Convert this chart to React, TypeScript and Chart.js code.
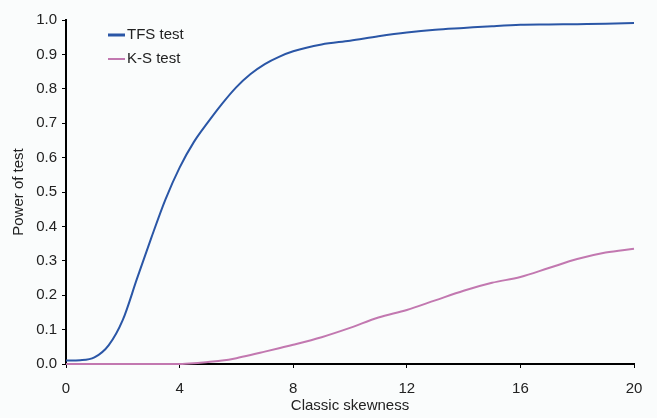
import React, { useEffect, useRef } from "react";
import { Chart, registerables } from "chart.js";

Chart.register(...registerables);

const skewness = [0, 0.5, 1, 1.5, 2, 2.5, 3, 3.5, 4, 4.5, 5, 5.5, 6, 6.5, 7, 7.5, 8, 9, 10, 11, 12, 13, 14, 15, 16, 17, 18, 19, 20];
const tfsPower = [0.010, 0.011, 0.019, 0.054, 0.128, 0.248, 0.366, 0.478, 0.571, 0.645, 0.703, 0.757, 0.805, 0.843, 0.872, 0.893, 0.909, 0.929, 0.940, 0.953, 0.964, 0.972, 0.977, 0.982, 0.986, 0.987, 0.988, 0.989, 0.991];
const ksPower = [0, 0, 0, 0, 0, 0, 0, 0, 0, 0.002, 0.006, 0.010, 0.017, 0.026, 0.036, 0.046, 0.056, 0.078, 0.105, 0.135, 0.157, 0.185, 0.213, 0.236, 0.253, 0.279, 0.305, 0.324, 0.335];
const seriesNames = ["TFS test", "K-S test"];
const seriesColors = ["#2a56a6", "#c278b0"];
const xTitle = "Classic skewness";
const yTitle = "Power of test";

const FONT = "'Liberation Sans', Arial, sans-serif";

export default function App() {
  const ref = useRef<HTMLCanvasElement | null>(null);

  useEffect(() => {
    if (!ref.current) return;
    const bgPlugin = {
      id: "bg",
      beforeDraw(chart: any) {
        const { ctx, width, height } = chart;
        ctx.save();
        ctx.fillStyle = "#fafcfc";
        ctx.fillRect(0, 0, width, height);
        ctx.restore();
      },
    };
    const legendPlugin = {
      id: "innerLegend",
      afterDraw(chart: any) {
        const { ctx } = chart;
        ctx.save();
        ctx.font = `15px ${FONT}`;
        ctx.textBaseline = "middle";
        ctx.fillStyle = "#222";
        const ys = [35, 59];
        const widths = [3, 2];
        seriesNames.forEach((name, i) => {
          ctx.strokeStyle = seriesColors[i];
          ctx.lineWidth = widths[i];
          ctx.beginPath();
          ctx.moveTo(108, ys[i]);
          ctx.lineTo(125, ys[i]);
          ctx.stroke();
          ctx.fillText(name, 127, ys[i]);
        });
        ctx.restore();
      },
    };
    const chart = new Chart(ref.current, {
      type: "line",
      data: {
        datasets: [
          {
            label: seriesNames[0],
            data: skewness.map((x, i) => ({ x, y: tfsPower[i] })),
            borderColor: seriesColors[0],
            borderWidth: 2,
            pointRadius: 0,
            cubicInterpolationMode: "monotone",
            fill: false,
            clip: false,
          },
          {
            label: seriesNames[1],
            data: skewness.map((x, i) => ({ x, y: ksPower[i] })),
            borderColor: seriesColors[1],
            borderWidth: 2,
            pointRadius: 0,
            cubicInterpolationMode: "monotone",
            fill: false,
            clip: false,
          },
        ],
      },
      options: {
        animation: false,
        responsive: false,
        maintainAspectRatio: false,
        layout: { padding: { top: 20, right: 23, left: 0, bottom: 0 } },
        plugins: { legend: { display: false }, tooltip: { enabled: false } },
        scales: {
          x: {
            type: "linear",
            min: 0,
            max: 20,
            afterFit(scale: any) {
              scale.height = 54;
            },
            ticks: {
              stepSize: 4,
              color: "#222",
              font: { family: FONT, size: 15 },
              padding: 12,
              maxRotation: 0,
            },
            grid: { drawOnChartArea: false, drawTicks: true, tickLength: 4, color: "#000" },
            border: { color: "#000", width: 2 },
            title: {
              display: true,
              text: xTitle,
              color: "#222",
              font: { family: FONT, size: 15 },
              padding: { top: 0, bottom: 3 },
            },
          },
          y: {
            min: 0,
            max: 1,
            afterFit(scale: any) {
              scale.width = 66;
            },
            ticks: {
              stepSize: 0.1,
              color: "#222",
              font: { family: FONT, size: 15 },
              padding: 5,
              callback: (v: any) => Number(v).toFixed(1),
            },
            grid: { drawOnChartArea: false, drawTicks: true, tickLength: 4, color: "#000" },
            border: { color: "#000", width: 2 },
            title: {
              display: true,
              text: yTitle,
              color: "#222",
              font: { family: FONT, size: 15 },
              padding: { top: 10, bottom: 0 },
            },
          },
        },
      },
      plugins: [bgPlugin, legendPlugin],
    } as any);
    return () => chart.destroy();
  }, []);

  return (
    <div style={{ position: "fixed", left: 0, top: 0, width: 657, height: 418 }}>
      <canvas ref={ref} width={657} height={418} style={{ display: "block", width: 657, height: 418 }} />
    </div>
  );
}
